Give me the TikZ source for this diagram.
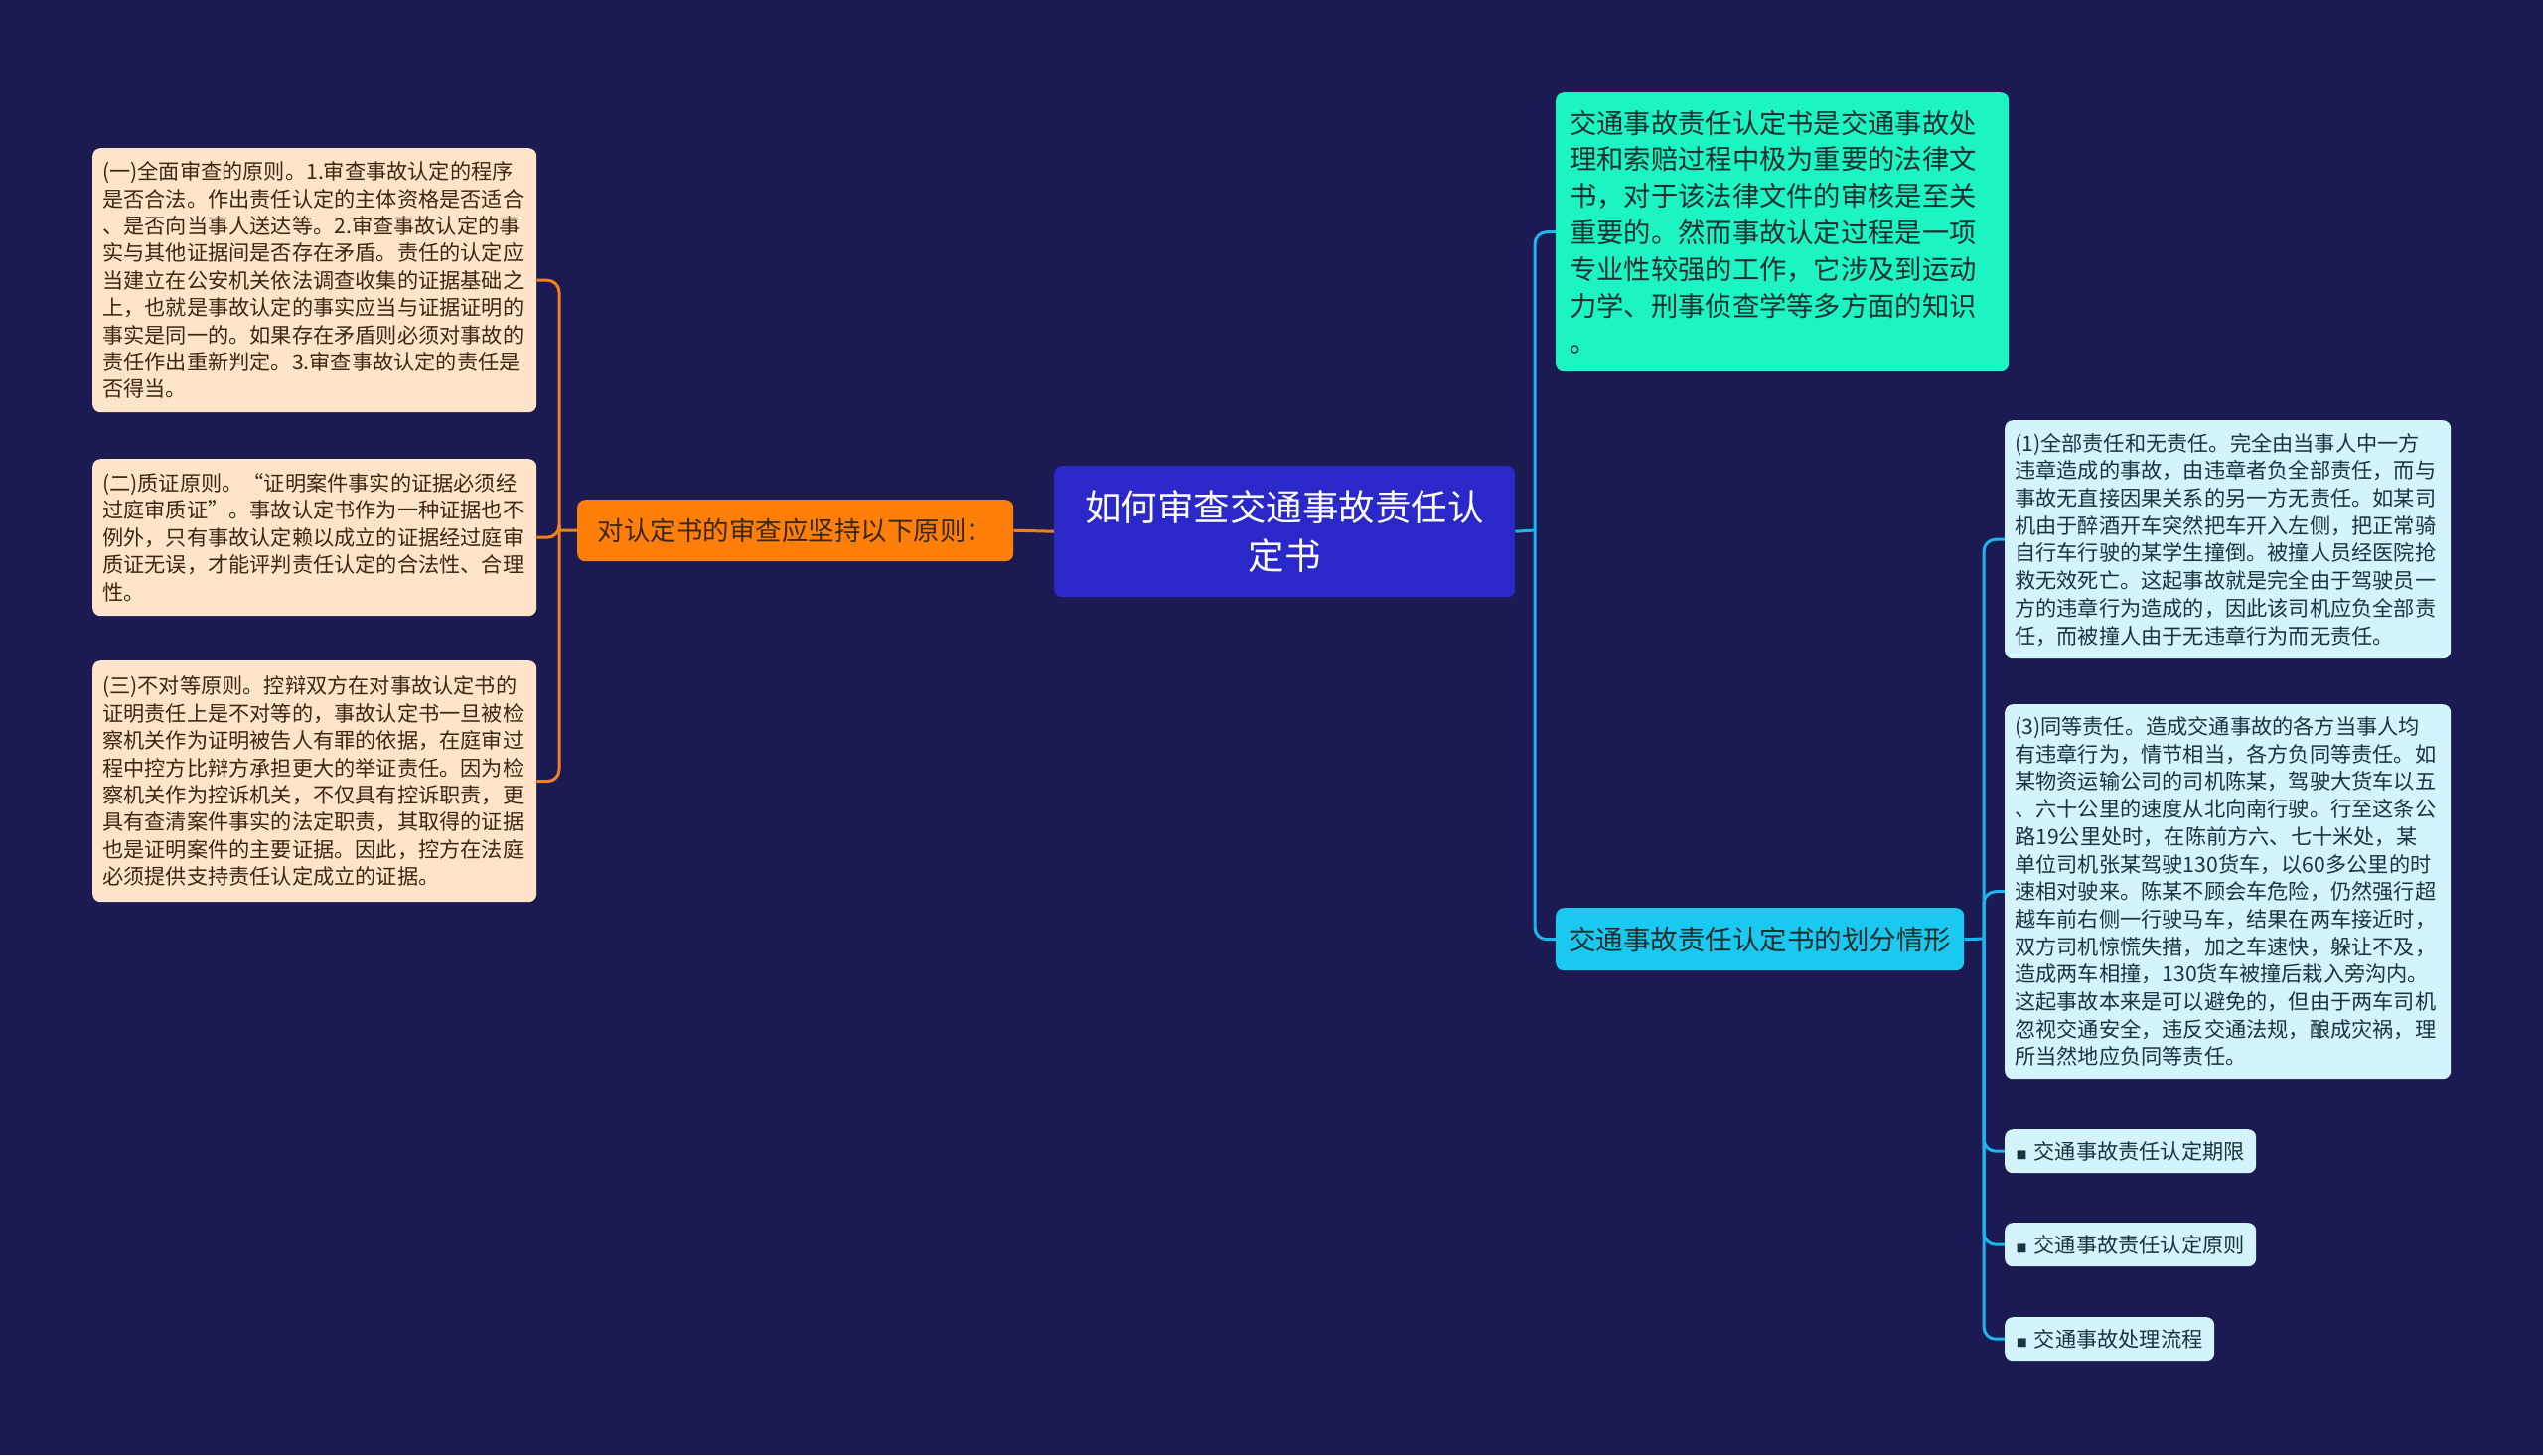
\documentclass[tikz,border=0pt]{standalone}
\usepackage{fontspec}
\setmainfont{Noto Sans CJK SC}
\definecolor{bg}{HTML}{1B1A52}
\definecolor{rootc}{HTML}{2A28C8}
\definecolor{orangec}{HTML}{FF7F0A}
\definecolor{peach}{HTML}{FEE5CA}
\definecolor{tealc}{HTML}{1CF4C4}
\definecolor{cyanc}{HTML}{1BC8F0}
\definecolor{lightc}{HTML}{D3F4FC}
\definecolor{lline}{HTML}{F08020}
\definecolor{rline}{HTML}{1AB6EC}
\definecolor{brownt}{HTML}{3A2812}
\definecolor{darkt}{HTML}{15302E}
\definecolor{bluet}{HTML}{183440}
\begin{document}
\begin{tikzpicture}[x=1pt,y=-1pt,
  boxbase/.style={rounded corners=8pt, inner ysep=0pt, anchor=north west},
  peachbox/.style={boxbase, fill=peach, text=brownt, align=left, inner xsep=10pt,
    font=\fontsize{21.2}{27.4}\selectfont, text width=427pt, minimum width=447pt},
  lightbox/.style={boxbase, fill=lightc, text=bluet, align=left, inner xsep=10pt,
    font=\fontsize{21.2}{27.7}\selectfont, text width=429pt, minimum width=449pt},
  smallbox/.style={boxbase, fill=lightc, text=bluet, align=left, inner xsep=10pt,
    font=\fontsize{21.2}{26}\selectfont, minimum height=44pt},
  lconn/.style={draw=lline, line width=3pt, rounded corners=12pt},
  rconn/.style={draw=rline, line width=3pt, rounded corners=12pt}
]
\fill[bg] (0,0) rectangle (2560,1465);
\useasboundingbox (0,0) rectangle (2560,1465);

% root
\node[boxbase, fill=rootc, text=white, align=center, minimum width=464pt, minimum height=132pt,
  font=\fontsize{36.5}{49}\selectfont] (root) at (1061,469) {如何审查交通事故责任认\\定书};

% left branch
\node[boxbase, fill=orangec, text=brownt, align=center, minimum width=439pt, minimum height=62pt,
  font=\fontsize{26.5}{30}\selectfont] (ori) at (581,503) {对认定书的审查应坚持以下原则：};

\node[peachbox, minimum height=266pt] (lb1) at (93,149) {(一)全面审查的原则。1.审查事故认定的程序\\是否合法。作出责任认定的主体资格是否适合\\、是否向当事人送达等。2.审查事故认定的事\\实与其他证据间是否存在矛盾。责任的认定应\\当建立在公安机关依法调查收集的证据基础之\\上，也就是事故认定的事实应当与证据证明的\\事实是同一的。如果存在矛盾则必须对事故的\\责任作出重新判定。3.审查事故认定的责任是\\否得当。};
\node[peachbox, minimum height=158pt] (lb2) at (93,462) {(二)质证原则。“证明案件事实的证据必须经\\过庭审质证”。事故认定书作为一种证据也不\\例外，只有事故认定赖以成立的证据经过庭审\\质证无误，才能评判责任认定的合法性、合理\\性。};
\node[peachbox, minimum height=243pt] (lb3) at (93,665) {(三)不对等原则。控辩双方在对事故认定书的\\证明责任上是不对等的，事故认定书一旦被检\\察机关作为证明被告人有罪的依据，在庭审过\\程中控方比辩方承担更大的举证责任。因为检\\察机关作为控诉机关，不仅具有控诉职责，更\\具有查清案件事实的法定职责，其取得的证据\\也是证明案件的主要证据。因此，控方在法庭\\必须提供支持责任认定成立的证据。};

% right branch
\node[boxbase, fill=tealc, text=darkt, align=left, inner xsep=14pt, text width=428pt,
  minimum width=456pt, minimum height=281pt, font=\fontsize{27.3}{36.8}\selectfont] (teal) at (1566,93)
  {交通事故责任认定书是交通事故处\\理和索赔过程中极为重要的法律文\\书，对于该法律文件的审核是至关\\重要的。然而事故认定过程是一项\\专业性较强的工作，它涉及到运动\\力学、刑事侦查学等多方面的知识\\。};

\node[boxbase, fill=cyanc, text=darkt, align=center, minimum width=411pt, minimum height=63pt,
  font=\fontsize{27.5}{30}\selectfont] (cy) at (1566,914) {交通事故责任认定书的划分情形};

\node[lightbox, minimum height=240pt] (rb1) at (2018,423) {(1)全部责任和无责任。完全由当事人中一方\\违章造成的事故，由违章者负全部责任，而与\\事故无直接因果关系的另一方无责任。如某司\\机由于醉酒开车突然把车开入左侧，把正常骑\\自行车行驶的某学生撞倒。被撞人员经医院抢\\救无效死亡。这起事故就是完全由于驾驶员一\\方的违章行为造成的，因此该司机应负全部责\\任，而被撞人由于无违章行为而无责任。};
\node[lightbox, minimum height=377pt] (rb3) at (2018,709) {(3)同等责任。造成交通事故的各方当事人均\\有违章行为，情节相当，各方负同等责任。如\\某物资运输公司的司机陈某，驾驶大货车以五\\、六十公里的速度从北向南行驶。行至这条公\\路19公里处时，在陈前方六、七十米处，某\\单位司机张某驾驶130货车，以60多公里的时\\速相对驶来。陈某不顾会车危险，仍然强行超\\越车前右侧一行驶马车，结果在两车接近时，\\双方司机惊慌失措，加之车速快，躲让不及，\\造成两车相撞，130货车被撞后栽入旁沟内。\\这起事故本来是可以避免的，但由于两车司机\\忽视交通安全，违反交通法规，酿成灾祸，理\\所当然地应负同等责任。};

\node[smallbox, minimum width=253pt] (s1) at (2018,1137) {{\fontsize{11}{11}\selectfont ■}\hspace{7pt}交通事故责任认定期限};
\node[smallbox, minimum width=253pt] (s2) at (2018,1231) {{\fontsize{11}{11}\selectfont ■}\hspace{7pt}交通事故责任认定原则};
\node[smallbox, minimum width=211pt] (s3) at (2018,1326) {{\fontsize{11}{11}\selectfont ■}\hspace{7pt}交通事故处理流程};

% connectors
\coordinate (lj) at (563,534);
\coordinate (rj) at (1545,534);
\coordinate (cj) at (1997,945);

\draw[lconn] (root.west) -- (ori.east);
\draw[lconn] (ori.west) -- (lj);
\draw[lconn] (lj) |- (lb1.east);
\draw[lconn] (lj) |- (lb2.east);
\draw[lconn] (lj) |- (lb3.east);

\draw[rconn] (root.east) -- (rj);
\draw[rconn] (rj) |- (teal.west);
\draw[rconn] (rj) |- (cy.west);

\draw[rconn] (cy.east) -- (cj);
\draw[rconn] (cj) |- (rb1.west);
\draw[rconn] (cj) |- (rb3.west);
\draw[rconn] (cj) |- (s1.west);
\draw[rconn] (cj) |- (s2.west);
\draw[rconn] (cj) |- (s3.west);
\end{tikzpicture}
\end{document}
